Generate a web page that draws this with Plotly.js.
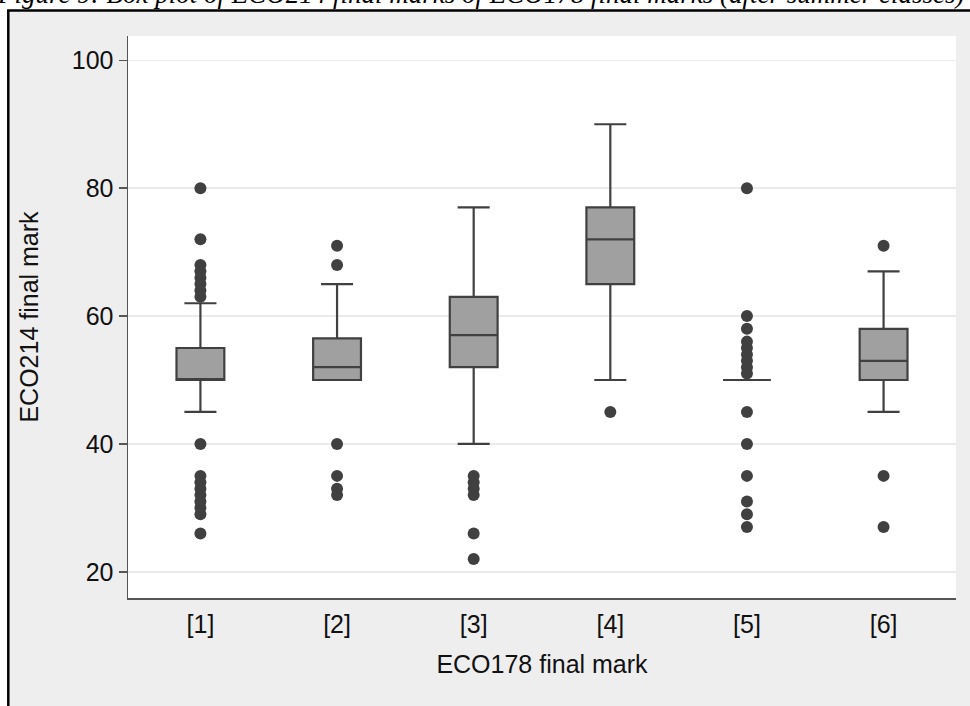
<!DOCTYPE html>
<html>
<head>
<meta charset="utf-8">
<script src="https://cdn.plot.ly/plotly-3.0.1.min.js"></script>
<style>html,body{margin:0;padding:0;background:#fff;}#chart{width:970px;height:706px;}</style>
</head>
<body>
<div id="chart"></div>
<script>
// ---- data ----
const categories = ["[1]", "[2]", "[3]", "[4]", "[5]", "[6]"];
const q1Values     = [50, 50, 52, 65, 50, 50];
const medianValues = [50, 52, 57, 72, 50, 53];
const q3Values     = [55, 56.5, 63, 77, 50, 58];
const lowerWhisker = [45, 50, 40, 50, 50, 45];
const upperWhisker = [62, 65, 77, 90, 50, 67];
const outliers1 = [80, 72, 68, 67, 66, 65, 64, 63, 40, 35, 34, 33, 32, 31, 30, 29, 26];
const outliers2 = [71, 68, 40, 35, 33, 32];
const outliers3 = [35, 34, 33, 32, 26, 22];
const outliers4 = [45];
const outliers5 = [80, 60, 58, 56, 55, 54, 53, 52, 51, 45, 40, 35, 31, 29, 27];
const outliers6 = [71, 35, 27];
const yTicks = [20, 40, 60, 80, 100];
const titleText = "Figure 9: Box plot of ECO214 final marks of ECO178 final marks (after summer classes)";
const xTitle = "ECO178 final mark";
const yTitle = "ECO214 final mark";

const outlierGroups = [outliers1, outliers2, outliers3, outliers4, outliers5, outliers6];

// ---- geometry (pixels) ----
const W = 970, H = 706;
const M = {l: 128, r: 14, t: 36, b: 108};
const plotW = W - M.l - M.r, plotH = H - M.t - M.b;
const px = x => (x - M.l) / plotW;
const py = y => (H - M.b - y) / plotH;

const dark = "#404040";

const traces = [{
  type: "box",
  x: categories,
  q1: q1Values,
  median: medianValues,
  q3: q3Values,
  lowerfence: lowerWhisker,
  upperfence: upperWhisker,
  boxpoints: false,
  fillcolor: "#a0a0a0",
  line: {color: dark, width: 2.2},
  whiskerwidth: 0.67,
  showlegend: false,
  hoverinfo: "skip"
}];
outlierGroups.forEach((vals, i) => {
  traces.push({
    type: "scatter",
    mode: "markers",
    x: vals.map(() => categories[i]),
    y: vals,
    marker: {color: dark, size: 12},
    showlegend: false,
    hoverinfo: "skip",
    cliponaxis: false
  });
});

const layout = {
  width: W, height: H, autosize: false,
  margin: M,
  paper_bgcolor: "#eeeeee",
  plot_bgcolor: "#ffffff",
  showlegend: false,
  boxgap: 0.5,
  font: {family: "Arial, 'Liberation Sans', sans-serif", color: "#111111"},
  xaxis: {
    type: "category",
    categoryorder: "array",
    categoryarray: categories,
    range: [-0.53, 5.53],
    showline: true, linecolor: "#555555", linewidth: 1.5,
    showgrid: false, zeroline: false,
    ticks: "outside", ticklen: 3, tickcolor: "rgba(0,0,0,0)",
    tickfont: {size: 25, color: "#111111"},
    title: {text: xTitle, font: {size: 25, color: "#111111"}, standoff: 19}
  },
  yaxis: {
    range: [15.9, 103.8],
    tickvals: yTicks,
    showline: true, linecolor: "#555555", linewidth: 1.5,
    showgrid: true, gridcolor: "#ebebeb", gridwidth: 1.5,
    zeroline: false,
    ticks: "outside", ticklen: 8, tickcolor: "#555555", tickwidth: 1.5,
    tickfont: {size: 25, color: "#111111"},
    title: {text: yTitle, font: {size: 25, color: "#111111"}, standoff: 26}
  },
  shapes: [
    // white strips outside the frame
    {type: "rect", xref: "paper", yref: "paper", x0: px(-5), x1: px(W + 5), y0: py(10), y1: py(-5),
     fillcolor: "#ffffff", line: {width: 0}, layer: "above"},
    {type: "rect", xref: "paper", yref: "paper", x0: px(-5), x1: px(8), y0: py(H + 5), y1: py(-5),
     fillcolor: "#ffffff", line: {width: 0}, layer: "above"},
    // frame lines
    {type: "line", xref: "paper", yref: "paper", x0: px(8.3), x1: px(8.3), y0: py(H + 5), y1: py(10.5),
     line: {color: "#000000", width: 2.5}, layer: "above"},
    {type: "line", xref: "paper", yref: "paper", x0: px(7), x1: px(W + 5), y0: py(10.5), y1: py(10.5),
     line: {color: "#000000", width: 2.5}, layer: "above"}
  ],
  annotations: [{
    text: "<i>" + titleText + "</i>",
    xref: "paper", yref: "paper",
    x: px(480), y: py(-6),
    xanchor: "center", yanchor: "middle",
    showarrow: false,
    font: {family: "'Liberation Serif', 'DejaVu Serif', serif", size: 27, color: "#000000"}
  }]
};

Plotly.newPlot("chart", traces, layout, {staticPlot: true, displayModeBar: false});
</script>
</body>
</html>
